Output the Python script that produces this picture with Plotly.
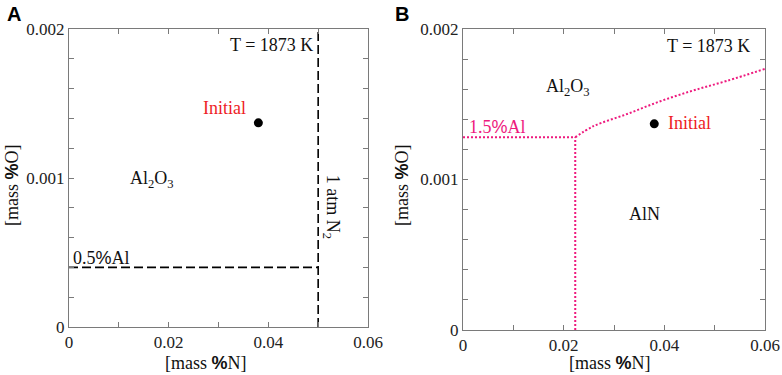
import plotly.graph_objects as go

# ---- data ----
x_tickvals = [0, 0.02, 0.04, 0.06]
x_ticktext = ["0", "0.02", "0.04", "0.06"]
y_tickvals = [0, 0.001, 0.002]
y_ticktext = ["0", "0.001", "0.002"]
x_minor_step = 0.01
y_minor_step = 0.0002

initial_N = [0.038]
initial_O = [0.00137]

# panel A boundaries
a_n2_x = [0.05, 0.05]
a_n2_y = [0, 0.002]
a_al_x = [0, 0.05]
a_al_y = [0.0004, 0.0004]

# panel B boundaries (1.5% Al)
b_horiz_x = [0, 0.0223]
b_horiz_y = [0.00128, 0.00128]
b_vert_x = [0.0223, 0.0223]
b_vert_y = [0, 0.00128]
b_curve_x = [0.0223, 0.0259, 0.0326, 0.0392, 0.0458, 0.0524, 0.0600]
b_curve_y = [0.00128, 0.001354, 0.001435, 0.00152, 0.001592, 0.001655, 0.001735]

SERIF = "Liberation Serif"
SANS = "Liberation Sans"
PINK = "#ee1a7e"
RED = "#ee1c25"
AXC = "#7a7a7a"

fig = go.Figure()

# Panel A
fig.add_trace(go.Scatter(x=a_n2_x, y=a_n2_y, mode="lines",
                         line=dict(color="black", width=1.6, dash="9px,4px"),
                         xaxis="x", yaxis="y", showlegend=False))
fig.add_trace(go.Scatter(x=a_al_x, y=a_al_y, mode="lines",
                         line=dict(color="black", width=1.6, dash="9px,4px"),
                         xaxis="x", yaxis="y", showlegend=False))
fig.add_trace(go.Scatter(x=initial_N, y=initial_O, mode="markers",
                         marker=dict(color="black", size=9),
                         xaxis="x", yaxis="y", showlegend=False))

# Panel B
for xs, ys, shp in [(b_horiz_x, b_horiz_y, "linear"), (b_vert_x, b_vert_y, "linear"),
                    (b_curve_x, b_curve_y, "spline")]:
    fig.add_trace(go.Scatter(x=xs, y=ys, mode="lines",
                             line=dict(color=PINK, width=2, dash="2px,2px", shape=shp),
                             xaxis="x2", yaxis="y2", showlegend=False))
fig.add_trace(go.Scatter(x=initial_N, y=initial_O, mode="markers",
                         marker=dict(color="black", size=9),
                         xaxis="x2", yaxis="y2", showlegend=False))

W, H = 782, 375

def xax(domain, anchor):
    return dict(domain=domain, anchor=anchor, range=[0, 0.06], automargin=False,
                tickmode="array", tickvals=x_tickvals, ticktext=x_ticktext,
                ticks="inside", ticklen=5, tickcolor=AXC, tickwidth=1,
                minor=dict(dtick=x_minor_step, tick0=0, ticks="inside", ticklen=5,
                           tickcolor=AXC, tickwidth=1, showgrid=False),
                showline=True, linecolor=AXC, linewidth=1, mirror="ticks",
                showgrid=False, zeroline=False,
                tickfont=dict(family=SERIF, size=17, color="#222"))

def yax(domain, anchor):
    return dict(domain=domain, anchor=anchor, range=[0, 0.002], automargin=False,
                tickmode="array", tickvals=y_tickvals, ticktext=y_ticktext,
                ticks="inside", ticklen=5, tickcolor=AXC, tickwidth=1,
                minor=dict(dtick=y_minor_step, tick0=0, ticks="inside", ticklen=5,
                           tickcolor=AXC, tickwidth=1, showgrid=False),
                showline=True, linecolor=AXC, linewidth=1, mirror="ticks",
                showgrid=False, zeroline=False,
                tickfont=dict(family=SERIF, size=17, color="#222"))

fig.update_layout(
    width=W, height=H,
    margin=dict(l=0, r=0, t=0, b=0),
    paper_bgcolor="white", plot_bgcolor="white",
    xaxis=xax([69 / W, 368 / W], "y"),
    yaxis=yax([(H - 327) / H, (H - 29) / H], "x"),
    xaxis2=xax([463 / W, 765 / W], "y2"),
    yaxis2=yax([(H - 330) / H, (H - 29) / H], "x2"),
)

ann = []
def t(x, y, text, xref, yref, size=18, color="#111", xanchor="center", yanchor="middle", angle=0, family=SERIF):
    ann.append(dict(x=x, y=y, xref=xref, yref=yref, text=text, showarrow=False,
                    xanchor=xanchor, yanchor=yanchor, textangle=angle,
                    font=dict(family=family, size=size, color=color)))

# Panel A texts
t(0.0494, 0.00189, "T = 1873 K", "x", "y", xanchor="right")
t(0.0313, 0.00147, "Initial", "x", "y", color=RED)
t(0.0167, 0.00099, "Al<sub>2</sub>O<sub>3</sub>", "x", "y")
t(0.0527, 0.00081, "1 atm N<sub>2</sub>", "x", "y", angle=90)
t(0.0004, 0.00046, "0.5<span style='font-family:Liberation Sans'>%</span>Al", "x", "y", xanchor="left")

# Panel B texts
t(0.0574, 0.00189, "T = 1873 K", "x2", "y2", xanchor="right")
t(0.0209, 0.00161, "Al<sub>2</sub>O<sub>3</sub>", "x2", "y2")
t(0.0008, 0.00135, "1.5<span style='font-family:Liberation Sans'>%</span>Al", "x2", "y2", xanchor="left", color=PINK)
t(0.0450, 0.001378, "Initial", "x2", "y2", color=RED)
t(0.0361, 0.000774, "AlN", "x2", "y2")

# axis titles
xt = "[mass <span style='font-family:Liberation Sans'><b>%</b></span>N]"
yt = "[mass <span style='font-family:Liberation Sans'><b>%</b></span>O]"
t(206 / W, (H - 363) / H, xt, "paper", "paper")
t(610 / W, (H - 363) / H, xt, "paper", "paper")
t(12 / W, (H - 185) / H, yt, "paper", "paper", angle=-90)
t(402 / W, (H - 185) / H, yt, "paper", "paper", angle=-90)

# panel letters
t(5 / W, (H - 14) / H, "<b>A</b>", "paper", "paper", size=20, family=SANS, xanchor="left", color="black")
t(393 / W, (H - 14) / H, "<b>B</b>", "paper", "paper", size=20, family=SANS, xanchor="left", color="black")

fig.update_layout(annotations=ann)
fig.write_html("out.html", config={"displayModeBar": False},
               post_script="document.body.style.margin='0';document.body.style.overflow='hidden';")
